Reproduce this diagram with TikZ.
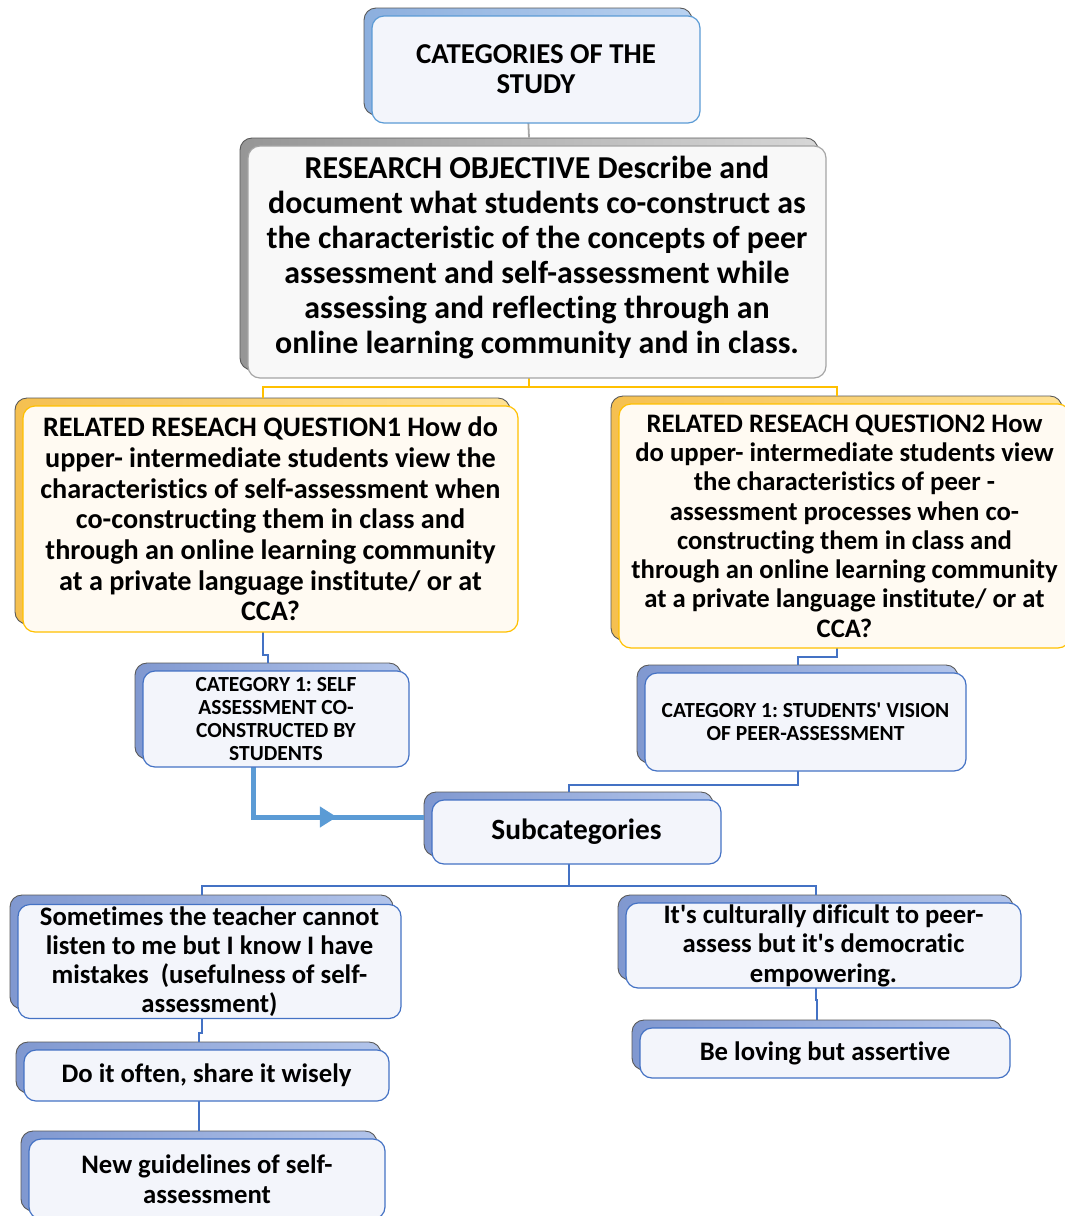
\documentclass[tikz,border=0pt]{standalone}
\usepackage{fontspec}
\setmainfont{Carlito}[Ligatures={TeX,NoCommon}]
\usetikzlibrary{calc,arrows.meta,decorations.markings}
\definecolor{bdgray}{RGB}{89,89,89}
\definecolor{bbL}{RGB}{128,152,208}
\definecolor{bbR}{RGB}{178,196,234}
\definecolor{b1L}{RGB}{140,175,222}
\definecolor{b1R}{RGB}{185,210,240}
\definecolor{grL}{RGB}{150,150,150}
\definecolor{grR}{RGB}{215,215,215}
\definecolor{orL}{RGB}{245,192,80}
\definecolor{orR}{RGB}{255,226,150}
\definecolor{fbFill}{RGB}{243,245,251}
\definecolor{fbBorder}{RGB}{68,114,196}
\definecolor{f1Border}{RGB}{91,155,213}
\definecolor{fgFill}{RGB}{248,248,248}
\definecolor{fgBorder}{RGB}{165,165,165}
\definecolor{foFill}{RGB}{255,250,242}
\definecolor{foBorder}{RGB}{255,192,0}
\definecolor{lineBlue}{RGB}{68,114,196}
\definecolor{thickBlue}{RGB}{91,155,213}
\definecolor{lineGray}{RGB}{166,166,166}
\definecolor{lineYel}{RGB}{255,192,0}
\begin{document}
\frenchspacing
\begin{tikzpicture}[x=1pt,y=-1pt,
  sz/.style 2 args={minimum width=#1pt, minimum height=#2pt},
  backbox/.style={draw=bdgray, line width=0.9pt, rounded corners=12pt, inner sep=0pt},
  bblue/.style={backbox, left color=bbL, right color=bbR},
  bblue1/.style={backbox, left color=b1L, right color=b1R},
  bgray/.style={backbox, left color=grL, right color=grR},
  borange/.style={backbox, left color=orL, right color=orR},
  frontbox/.style={rounded corners=12pt, line width=1.2pt, align=center, inner sep=0pt, text=black},
  fblue/.style={frontbox, draw=fbBorder, fill=fbFill},
  fblue1/.style={frontbox, draw=f1Border, fill=fbFill},
  fgray/.style={frontbox, draw=fgBorder, fill=fgFill},
  forange/.style={frontbox, draw=foBorder, fill=foFill},
  plaintext/.style={align=center, inner sep=0pt, text=black},
  bline/.style={draw=lineBlue, line width=2pt},
  gline/.style={draw=lineGray, line width=1.8pt},
  yline/.style={draw=lineYel, line width=2pt},
  thickarrow/.style={draw=thickBlue, line width=5pt,
    decoration={markings, mark=at position 0.62 with {\arrow[thickBlue]{Triangle[length=17pt,width=20pt]}}},
    postaction=decorate},
]
\useasboundingbox (0,0) rectangle (1065,1216);

% back shapes
\node[bblue1, sz={328}{107}] (catB) at (528,61.5) {};
\node[bgray, sz={578}{232}] (objB) at (529,254) {};
\node[borange, sz={495}{226}] (rq1B) at (262.5,511) {};
\node[borange, sz={451}{244}] (rq2B) at (836.5,518) {};
\node[bblue, sz={266}{96}] (c1aB) at (268,711) {};
\node[bblue, sz={321}{98}] (c1bB) at (797.5,714) {};
\node[bblue, sz={289}{64}] (subB) at (568.5,824) {};
\node[bblue, sz={383}{114}] (s1B) at (201.5,952) {};
\node[bblue, sz={365}{51}] (s2B) at (198.5,1067.5) {};
\node[bblue, sz={356}{80}] (s3B) at (199,1171) {};
\node[bblue, sz={395}{85}] (r1B) at (815.5,937.5) {};
\node[bblue, sz={370}{50}] (r2B) at (817,1045) {};

% connectors
\draw[gline] (catB.south) -- (objB.north);
\draw[yline] (objB.south) -- ++(0,17) coordinate (ybus);
\draw[yline] (rq1B.north) |- (ybus) -| (rq2B.north);
\draw[bline] (rq1B.south) |- ++(0,31) -| (c1aB.north);
\draw[bline] (rq2B.south) |- ++(0,17) -| (c1bB.north);
\draw[bline] (c1bB.south) -- ++(0,22) -| (subB.north);
\draw[bline] (subB.south) -- ++(0,30) coordinate (sbus);
\draw[bline] (s1B.north) |- (sbus) -| (r1B.north);
\draw[bline] (s1B.south) -- ++(0,24) -| (s2B.north);
\draw[bline] (s2B.south) -- (s2B.south |- s3B.north);
\draw[bline] (r1B.south) -- ++(0,20) -| (r2B.north);
\draw[thickarrow] ([xshift=-15pt]c1aB.south) |- ([yshift=7pt]subB.west);

% front boxes
\node[fblue1, sz={328}{107}, font=\fontsize{28.8}{30}\selectfont\bfseries] (cat) at ($(catB)+(8,8)$) {CATEGORIES OF THE\\STUDY};
\node[fgray, sz={578}{232}] (obj) at ($(objB)+(8,8)$) {};
\node[plaintext, font=\fontsize{31.9}{35}\selectfont\bfseries] (objT) at ($(obj)+(0,-4)$) {RESEARCH OBJECTIVE Describe and\\document what students co-construct as\\the characteristic of the concepts of peer\\assessment and self-assessment while\\assessing and reflecting through an\\online learning community and in class.};
\node[forange, sz={495}{226}, font=\fontsize{28.2}{30.7}\selectfont\bfseries] (rq1) at ($(rq1B)+(8,8)$) {RELATED RESEACH QUESTION1 How do\\upper- intermediate students view the\\characteristics of self-assessment when\\co-constructing them in class and\\through an online learning community\\at a private language institute/ or at\\CCA?};
\node[forange, sz={451}{244}, font=\fontsize{26.7}{29.3}\selectfont\bfseries] (rq2) at ($(rq2B)+(8,8)$) {RELATED RESEACH QUESTION2 How\\do upper- intermediate students view\\the characteristics of peer -\\assessment processes when co-\\constructing them in class and\\through an online learning community\\at a private language institute/ or at\\CCA?};
\node[fblue, sz={266}{96}, font=\fontsize{21.5}{23}\selectfont\bfseries] (c1a) at ($(c1aB)+(8,8)$) {CATEGORY 1: SELF\\ASSESSMENT CO-\\CONSTRUCTED BY\\STUDENTS};
\node[fblue, sz={321}{98}, font=\fontsize{21.5}{23}\selectfont\bfseries] (c1b) at ($(c1bB)+(8,8)$) {CATEGORY 1: STUDENTS\textquotesingle{} VISION\\OF PEER-ASSESSMENT};
\node[fblue, sz={289}{64}, font=\fontsize{29.4}{30}\selectfont\bfseries] (sub) at ($(subB)+(8,8)$) {Subcategories};
\node[fblue, sz={383}{114}, font=\fontsize{26.7}{29}\selectfont\bfseries] (s1) at ($(s1B)+(8,9.5)$) {Sometimes the teacher cannot\\listen to me but I know I have\\mistakes\ \ (usefulness of self-\\assessment)};
\node[fblue, sz={365}{51}, font=\fontsize{26.7}{29}\selectfont\bfseries] (s2) at ($(s2B)+(8,8)$) {Do it often, share it wisely};
\node[fblue, sz={356}{80}, font=\fontsize{26.7}{30}\selectfont\bfseries] (s3) at ($(s3B)+(8,8)$) {New guidelines of self-\\assessment};
\node[fblue, sz={395}{85}, font=\fontsize{26.7}{29.5}\selectfont\bfseries] (r1) at ($(r1B)+(8,8)$) {It\textquotesingle{}s culturally dificult to peer-\\assess but it\textquotesingle{}s democratic\\empowering.};
\node[fblue, sz={370}{50}, font=\fontsize{26.7}{29}\selectfont\bfseries] (r2) at ($(r2B)+(8,8)$) {Be loving but assertive};
\end{tikzpicture}
\end{document}
